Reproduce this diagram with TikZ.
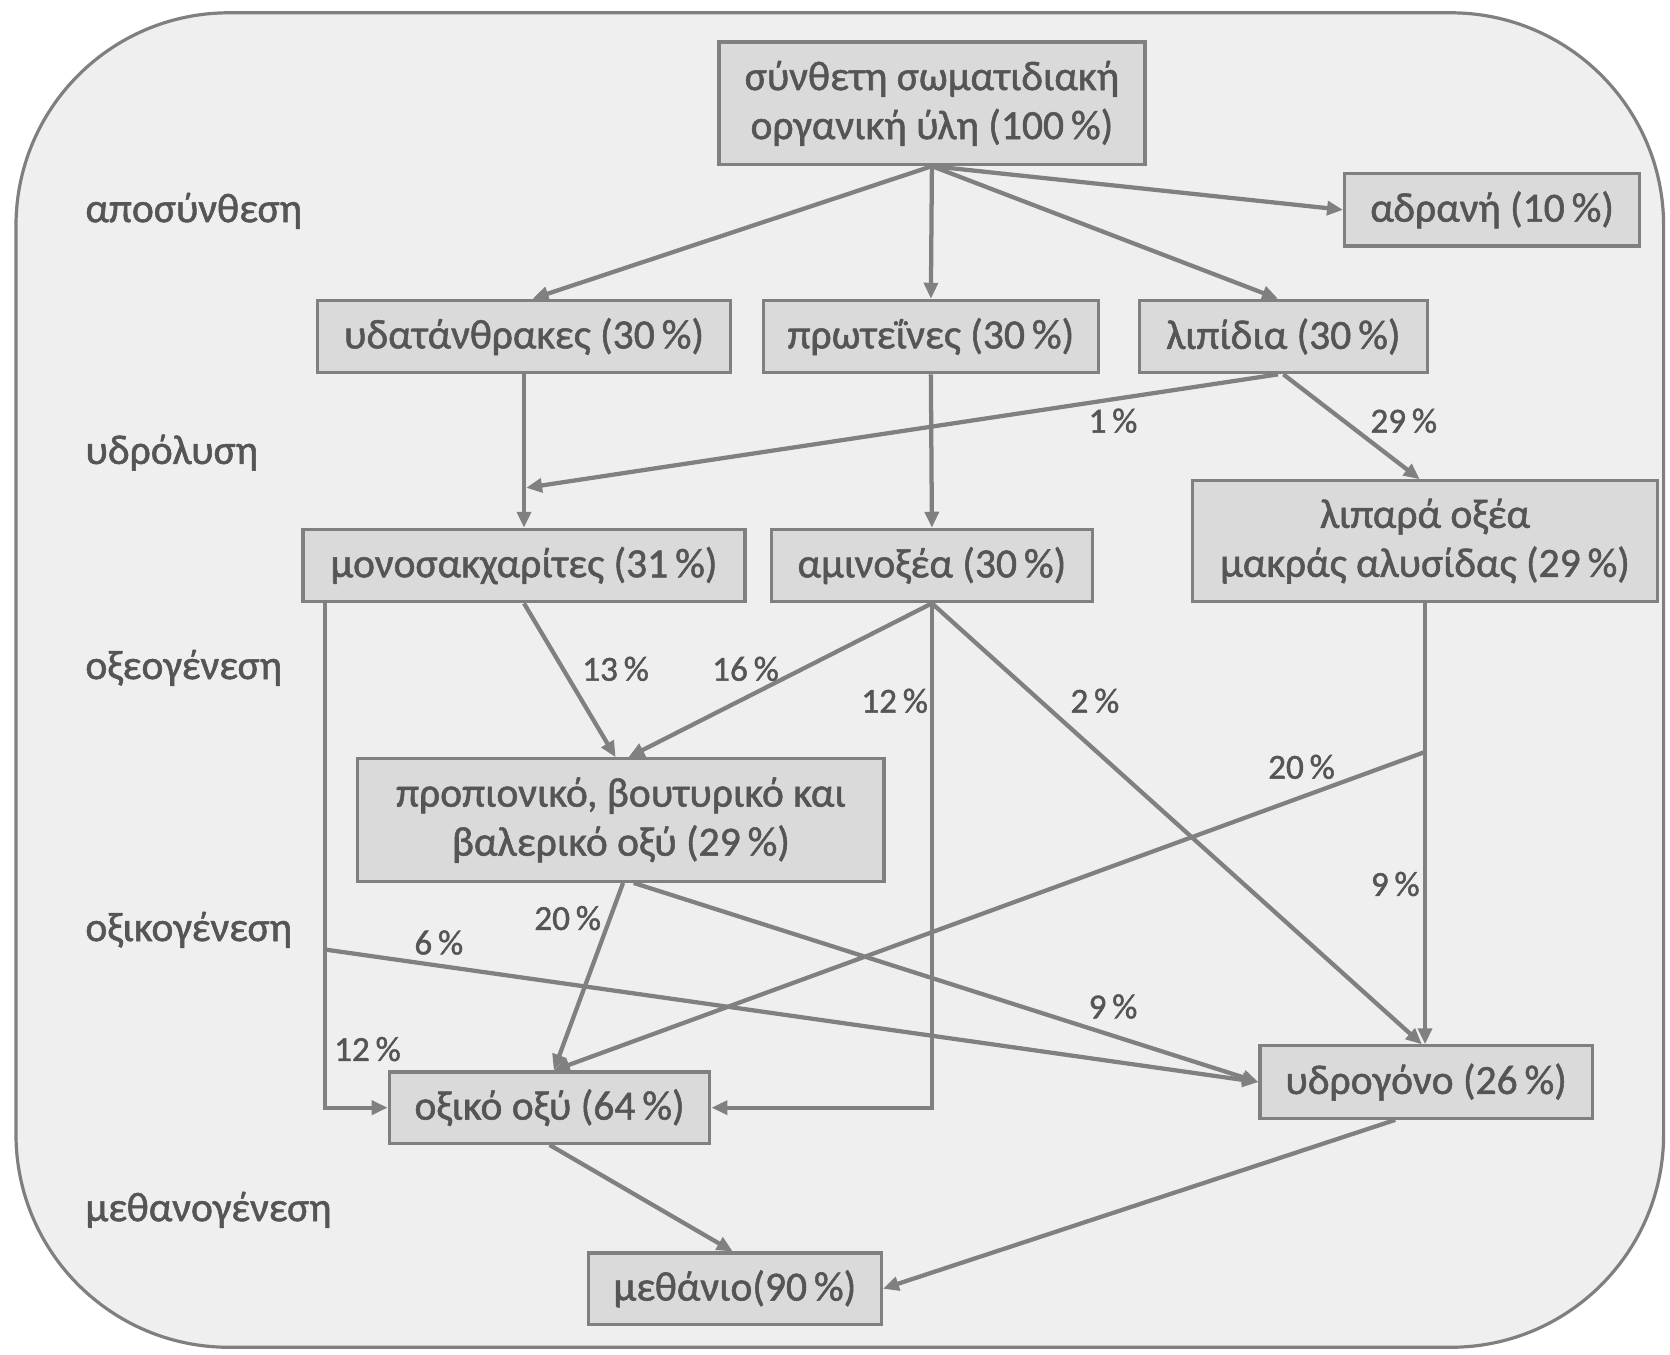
\documentclass[tikz,border=0pt]{standalone}
\usepackage{fontspec}
\setmainfont{Carlito}[BoldFont=Carlito, BoldFeatures={FakeBold=1.3}]
\usetikzlibrary{arrows.meta,calc}
\definecolor{framegray}{HTML}{7F7F7F}
\definecolor{bggray}{HTML}{EFEFEF}
\definecolor{boxfill}{HTML}{DADADA}
\definecolor{txtgray}{HTML}{555555}
\definecolor{linegray}{HTML}{808080}
\begin{document}
\begin{tikzpicture}[x=1pt,y=-1pt,
 box/.style={draw=linegray, fill=boxfill, line width=3pt, text=txtgray, font=\fontsize{39}{46}\selectfont\bfseries, align=center, inner sep=0pt, minimum height=68pt},
 stage/.style={text=txtgray, font=\fontsize{39}{44}\selectfont\bfseries, anchor=west, inner sep=0pt},
 pct/.style={text=txtgray, font=\fontsize{33}{36}\selectfont\bfseries, inner sep=0pt},
 conn/.style={draw=linegray, line width=4pt, -{Triangle[length=15pt,width=13pt]}}]
\useasboundingbox (0,0) rectangle (1568,1272);
\draw[draw=framegray, fill=bggray, line width=3pt, rounded corners=200pt] (15,12) rectangle (1562,1265);

\node[box, minimum width=400pt, minimum height=115pt] (top) at (875,97) {σύνθετη σωματιδιακή\\οργανική ύλη (100\,\%)};
\node[box, minimum width=277pt] (adr) at (1401,197) {αδρανή (10\,\%)};
\node[box, minimum width=388pt] (ydat) at (492,316) {υδατάνθρακες (30\,\%)};
\node[box, minimum width=315pt] (prot) at (874,316) {πρωτεΐνες (30\,\%)};
\node[box, minimum width=270pt] (lip) at (1205,316) {λιπίδια (30\,\%)};
\node[box, minimum width=437pt, minimum height=113pt] (lipox) at (1338,508) {λιπαρά οξέα\\μακράς αλυσίδας (29\,\%)};
\node[box, minimum width=415pt] (mono) at (492,531) {μονοσακχαρίτες (31\,\%)};
\node[box, minimum width=301pt] (amin) at (875,531) {αμινοξέα (30\,\%)};
\node[box, minimum width=494pt, minimum height=115pt] (prop) at (583,770) {προπιονικό, βουτυρικό και\\βαλερικό οξύ (29\,\%)};
\node[box, minimum width=301pt, minimum height=67pt] (oxik) at (516,1040) {οξικό οξύ (64\,\%)};
\node[box, minimum width=312pt] (ydrog) at (1339,1016) {υδρογόνο (26\,\%)};
\node[box, minimum width=275pt, minimum height=67pt] (meth) at (690,1210) {μεθάνιο(90\,\%)};

\node[stage] (s1) at (80,198) {αποσύνθεση};
\node[stage] (s2) at (80,425) {υδρόλυση};
\node[stage] (s3) at (80,627) {οξεογένεση};
\node[stage] (s4) at (80,873) {οξικογένεση};
\node[stage] (s5) at (80,1136) {μεθανογένεση};

\draw[conn] (top.south) -- ([xshift=8pt]ydat.north);
\draw[conn] (top.south) -- (prot.north);
\draw[conn] (top.south) -- ([xshift=-5pt]lip.north);
\draw[conn] (top.south) -- (adr.west);
\draw[conn] (ydat.south) -- (mono.north);
\coordinate (j1) at (494,458);
\draw[conn] ([xshift=-5pt]lip.south) -- (j1);
\draw[conn] (lip.south) -- ([xshift=-5pt]lipox.north);
\draw[conn] (prot.south) -- (amin.north);
\draw[conn] (mono.south) -- ([xshift=-5pt]prop.north);
\draw[conn] (amin.south) -- ([xshift=7pt]prop.north);
\draw[conn] (amin.south) -- (amin.south |- oxik.east) -- (oxik.east);
\draw[conn] (amin.south) -- ([xshift=-4pt]ydrog.north);
\draw[conn] (lipox.south) -- (lipox.south |- ydrog.north);
\coordinate (j2) at ($(lipox.south)+(0,140)$);
\draw[conn] (j2) -- ([xshift=4pt]oxik.north);
\coordinate (m1) at ([xshift=22pt]mono.south west);
\draw[conn] (m1) -- (m1 |- oxik.west) -- (oxik.west);
\coordinate (j3) at ($(m1)+(0,325)$);
\draw[conn] (j3) -- (ydrog.west);
\draw[conn] ([xshift=2pt]prop.south) -- ([xshift=4pt]oxik.north);
\draw[conn] ([xshift=12pt]prop.south) -- (ydrog.west);
\draw[conn] (oxik.south) -- ([xshift=-2pt]meth.north);
\draw[conn] ([xshift=-29pt]ydrog.south) -- (meth.east);

\node[pct] (p1) at (1045,395) {1\,\%};
\node[pct] (p2) at (1318,395) {29\,\%};
\node[pct] (p3) at (578,628) {13\,\%};
\node[pct] (p4) at (700,628) {16\,\%};
\node[pct] (p5) at (840,658) {12\,\%};
\node[pct] (p6) at (1028,658) {2\,\%};
\node[pct] (p7) at (1222,720) {20\,\%};
\node[pct] (p8) at (1310,830) {9\,\%};
\node[pct] (p9) at (533,862) {20\,\%};
\node[pct] (p10) at (412,885) {6\,\%};
\node[pct] (p11) at (1045,945) {9\,\%};
\node[pct] (p12) at (345,985) {12\,\%};
\end{tikzpicture}
\end{document}
